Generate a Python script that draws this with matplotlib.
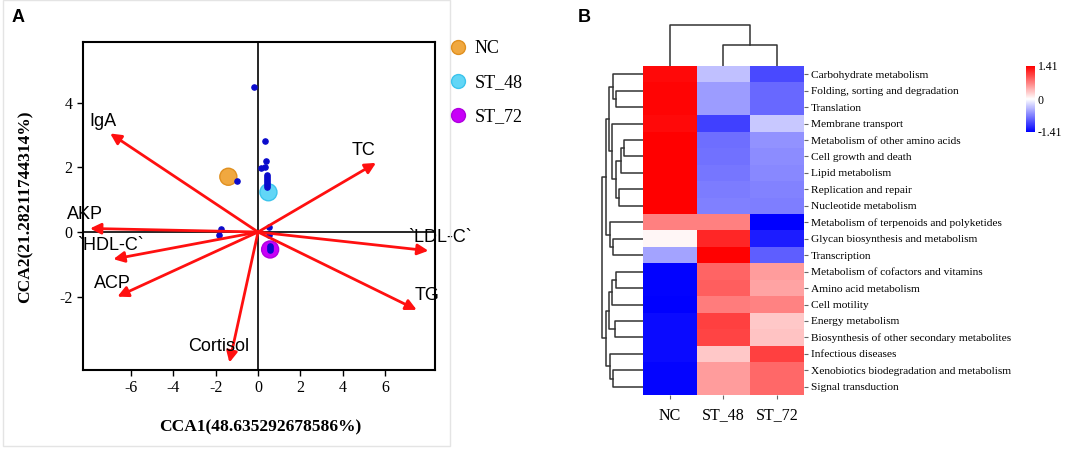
import matplotlib
matplotlib.use("Agg")
import matplotlib.pyplot as plt
from matplotlib.colors import LinearSegmentedColormap
from matplotlib.lines import Line2D
from matplotlib.patches import Rectangle
import numpy as np

plt.rcParams['axes.unicode_minus'] = False

# ---- panel A data: CCA biplot ----
env_names = ['IgA', 'TC', 'AKP', '`HDL-C`', 'ACP', 'Cortisol', '`LDL-C`', 'TG']
env_x = [-6.97, 5.56, -7.92, -6.82, -6.63, -1.35, 8.03, 7.48]
env_y = [3.05, 2.14, 0.11, -0.84, -2.00, -4.04, -0.58, -2.41]

site_x = [-0.19, 0.33, 0.38, 0.14, 0.33, -0.97, 0.41, 0.41, 0.41, 0.41, 0.41, 0.41, 0.41,
          -1.76, -1.84, 0.53, 0.53, 0.57, 0.57, 0.57]
site_y = [4.49, 2.81, 2.21, 1.99, 2.02, 1.58, 1.76, 1.70, 1.64, 1.58, 1.52, 1.46, 1.40,
          0.10, -0.10, 0.15, -0.10, -0.44, -0.50, -0.56]

groups = ['NC', 'ST_48', 'ST_72']
group_x = [-1.40, 0.49, 0.57]
group_y = [1.71, 1.23, -0.54]
group_colors = ['#f0a840', '#62d6f6', '#c800f8']
group_edges = ['#e09020', '#3cc4ec', '#b000e0']

# ---- panel B data: heatmap of pathway z-scores ----
pathways = ['Carbohydrate metabolism', 'Folding, sorting and degradation', 'Translation',
            'Membrane transport', 'Metabolism of other amino acids', 'Cell growth and death',
            'Lipid metabolism', 'Replication and repair', 'Nucleotide metabolism',
            'Metabolism of terpenoids and polyketides', 'Glycan biosynthesis and metabolism',
            'Transcription', 'Metabolism of cofactors and vitamins', 'Amino acid metabolism',
            'Cell motility', 'Energy metabolism', 'Biosynthesis of other secondary metabolites',
            'Infectious diseases', 'Xenobiotics biodegradation and metabolism', 'Signal transduction']
nc_vals = [1.35, 1.38, 1.38, 1.35, 1.41, 1.41, 1.41, 1.41, 1.41, 0.70, 0.05, -0.50,
           -1.39, -1.39, -1.41, -1.35, -1.35, -1.35, -1.38, -1.38]
st48_vals = [-0.35, -0.55, -0.55, -1.05, -0.80, -0.78, -0.76, -0.72, -0.70, 0.70, 1.20, 1.39,
             0.85, 0.89, 0.72, 1.05, 1.03, 0.30, 0.55, 0.55]
st72_vals = [-1.00, -0.83, -0.83, -0.30, -0.60, -0.63, -0.65, -0.69, -0.71, -1.41, -1.25, -0.89,
             0.54, 0.50, 0.69, 0.30, 0.32, 1.05, 0.83, 0.83]

# dendrograms: (height, left, right), leaves are row/column indices
row_tree = (41.3,
            (37.3,
             (33.7, (30.3, 0, (27.0, 1, 2)),
              (30.7, 3, (27.0, (22.3, (19.3, 4, 5), 6), (23.7, 7, 8)))),
             (33.0, 9, (30.3, 10, 11))),
            (37.3,
             (33.7, (30.7, (27.0, 12, 13), 14), (28.0, 15, 16)),
             (33.0, 17, (29.7, 18, 19))))
col_tree = (41.0, 0, (21.0, 1, 2))


def draw_tree(ax, node, orient):
    if isinstance(node, int):
        return node, 0.0
    h, a, b = node
    pa, ha = draw_tree(ax, a, orient)
    pb, hb = draw_tree(ax, b, orient)
    if orient == 'top':
        ax.plot([pa, pa, pb, pb], [ha, h, h, hb], color='#333333', lw=1.1)
    else:
        ax.plot([ha, h, h, hb], [pa, pa, pb, pb], color='#333333', lw=1.1)
    return (pa + pb) / 2, h


W, H = 1084, 449
fig = plt.figure(figsize=(W / 100, H / 100), dpi=100)


def px_axes(left, top, right, bottom):
    return fig.add_axes([left / W, 1 - bottom / H, (right - left) / W, (bottom - top) / H])


serif = 'Liberation Serif'
sans = 'Liberation Sans'

# panel A frame
fig.patches.append(Rectangle((3 / W, 3 / H), 447 / W, 446 / H, transform=fig.transFigure,
                             fill=False, ec='#e4e4e4', lw=1))

ax = px_axes(83, 42, 435, 370)
ax.set_xlim(-8.25, 8.34)
ax.set_ylim(-4.27, 5.88)
ax.axhline(0, color='black', lw=1.2, zorder=1)
ax.axvline(0, color='black', lw=1.2, zorder=1)
ax.scatter(group_x, group_y, s=150, c=group_colors, edgecolors=group_edges, linewidths=1, zorder=2)
ax.scatter(site_x, site_y, s=14, c='#0a0acc', zorder=3)

label_off = {'IgA': (-1.0, 0.36), 'TC': (-1.15, 0.37), 'AKP': (-1.1, 0.42), '`HDL-C`': (-1.73, 0.41),
             'ACP': (-1.1, 0.41), 'Cortisol': (-1.93, 0.49), '`LDL-C`': (-0.95, 0.42), 'TG': (-0.08, 0.46)}
for name, x, y in zip(env_names, env_x, env_y):
    ax.annotate('', xy=(x, y), xytext=(0, 0),
                arrowprops=dict(arrowstyle='-|>', color='#ff1010', lw=2, mutation_scale=16,
                                shrinkA=0, shrinkB=0), zorder=4)
    dx, dy = label_off[name]
    ax.text(x + dx, y + dy, name, fontsize=13, family=sans, ha='left', va='center',
            clip_on=False, zorder=5)

ax.set_xticks([-6, -4, -2, 0, 2, 4, 6])
ax.set_yticks([-2, 0, 2, 4])
ax.tick_params(labelsize=11.5, length=4, width=1, labelfontfamily=serif)
for s in ax.spines.values():
    s.set_linewidth(1.5)
ax.set_xlabel('CCA1(48.635292678586%)', family=serif, fontsize=12.5, fontweight='bold')
ax.set_ylabel('CCA2(21.28211744314%)', family=serif, fontsize=12.5, fontweight='bold')
ax.xaxis.set_label_coords(0.503, -0.15)
ax.yaxis.set_label_coords(-0.14, 0.497)

handles = [Line2D([], [], ls='', marker='o', ms=10, mfc=c, mec=e) for c, e in zip(group_colors, group_edges)]
fig.legend(handles, groups, loc='upper left', bbox_to_anchor=(431 / W, 1 - 24 / H), frameon=False,
           prop={'family': serif, 'size': 13}, labelspacing=0.95, handletextpad=0.3, handlelength=1.2)

fig.text(12 / W, 1 - 18 / H, 'A', family=sans, fontweight='bold', fontsize=13, va='center')
fig.text(578 / W, 1 - 18 / H, 'B', family=sans, fontweight='bold', fontsize=13, va='center')

# panel B heatmap
data = np.array([nc_vals, st48_vals, st72_vals]).T
cmap = LinearSegmentedColormap.from_list('bwr2', ['#0000ff', '#ffffff', '#ff0000'])
hax = px_axes(643, 66, 804, 395)
im = hax.imshow(data, cmap=cmap, vmin=-1.41, vmax=1.41, aspect='auto', interpolation='nearest')
hax.yaxis.tick_right()
hax.set_yticks(range(len(pathways)))
hax.set_yticklabels(pathways, family=serif, fontsize=8.2)
hax.set_xticks(range(len(groups)))
hax.set_xticklabels(groups, family=serif, fontsize=11.5)
hax.tick_params(axis='y', length=3, pad=2, color='#666666')
hax.tick_params(axis='x', length=3, pad=6, color='#666666')
for s in hax.spines.values():
    s.set_visible(False)

rax = px_axes(598, 66, 643, 395)
draw_tree(rax, row_tree, 'left')
rax.set_xlim(45, 0)
rax.set_ylim(len(pathways) - 0.5, -0.5)
rax.axis('off')

cax_d = px_axes(643, 21, 804, 66)
draw_tree(cax_d, col_tree, 'top')
cax_d.set_xlim(-0.5, 2.5)
cax_d.set_ylim(0, 45)
cax_d.axis('off')

cb_ax = px_axes(1026, 66, 1035, 132)
cb = fig.colorbar(im, cax=cb_ax, ticks=[-1.41, 0, 1.41])
cb.outline.set_visible(False)
cb.ax.tick_params(length=0, labelsize=8.5, pad=2)
cb.ax.set_yticklabels(['-1.41', '0', '1.41'], family=serif)

fig.savefig('out.png', dpi=100)
